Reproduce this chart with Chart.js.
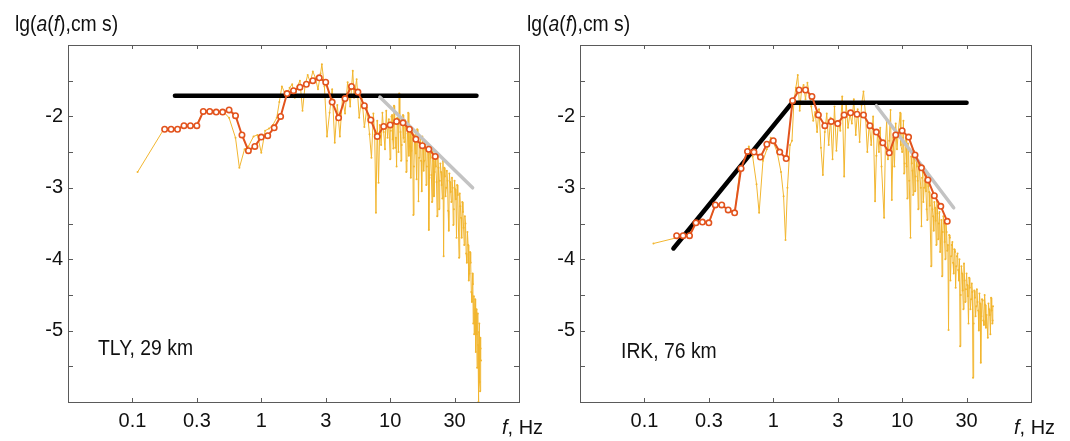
<!DOCTYPE html>
<html>
<head>
<meta charset="utf-8">
<script src="https://cdn.jsdelivr.net/npm/chart.js@4.4.1/dist/chart.umd.min.js"></script>
<style>
  body { margin: 0; background: #fff; }
  #wrap { position: relative; width: 1070px; height: 441px; }
  canvas { position: absolute; top: 0; }
</style>
</head>
<body>
<div id="wrap">
  <canvas id="tly" width="560" height="441" style="left:0"></canvas>
  <canvas id="irk" width="550" height="441" style="left:520px"></canvas>
</div>
<script>
// axes: x is lg(f), y is lg(a(f))
const xTickVals = [-1, -0.5, 0, 0.5, 1, 1.5];
const xTickLabels = ['0.1', '0.3', '1', '3', '10', '30'];
const yTickVals = [-1.5, -2, -2.5, -3, -3.5, -4, -4.5, -5, -5.5];
const yTickLabels = ['', '-2', '', '-3', '', '-4', '', '-5', ''];

// TLY, 29 km
const tlyNoiseLgF = [-0.96, -0.75, -0.70, -0.65, -0.60, -0.55, -0.50, -0.45, -0.40, -0.35, -0.30, -0.25, -0.20, -0.17, -0.13, -0.10, -0.06, -0.03, 0.00, 0.03,
  0.06, 0.09, 0.12, 0.14, 0.16, 0.18, 0.20, 0.22, 0.24, 0.26, 0.28, 0.30, 0.32, 0.34, 0.36, 0.38, 0.40, 0.42, 0.44, 0.46,
  0.47, 0.49, 0.51, 0.53, 0.55, 0.57, 0.59, 0.61, 0.63, 0.65, 0.67, 0.69, 0.71, 0.72, 0.74, 0.76, 0.78, 0.80, 0.82, 0.84,
  0.855, 0.87, 0.88, 0.89, 0.90, 0.91, 0.92, 0.93, 0.94, 0.95, 0.96, 0.97, 0.98, 0.99, 1.00, 1.01, 1.02, 1.03, 1.04, 1.05,
  1.06, 1.07, 1.08, 1.09, 1.10, 1.11, 1.12, 1.13, 1.14, 1.15, 1.16, 1.17, 1.18, 1.19, 1.20, 1.21, 1.22, 1.23, 1.24, 1.25,
  1.26, 1.27, 1.28, 1.29, 1.30, 1.31, 1.32, 1.33, 1.34, 1.35, 1.36, 1.37, 1.38, 1.39, 1.40, 1.41, 1.415, 1.42, 1.43, 1.44,
  1.45, 1.46, 1.47, 1.48, 1.49, 1.50, 1.51, 1.52, 1.535, 1.54, 1.55, 1.56, 1.57, 1.58, 1.59, 1.60, 1.61, 1.62, 1.63, 1.64,
  1.645, 1.65, 1.655, 1.66, 1.665, 1.67, 1.675, 1.68, 1.685, 1.69, 1.695, 1.70, 1.705];
const tlyNoiseLgA = [-2.78, -2.16, -2.20, -2.17, -2.12, -2.15, -2.11, -1.93, -1.91, -1.96, -1.92, -2.02, -2.30, -2.72, -2.46, -2.42, -2.28, -2.26, -2.51, -2.20,
  -2.17, -2.12, -2.02, -1.80, -1.58, -1.66, -1.72, -1.60, -1.55, -1.74, -1.58, -1.50, -1.92, -1.56, -1.42, -1.52, -1.37, -1.46, -1.62, -1.40,
  -1.27, -1.58, -2.28, -1.95, -1.62, -2.37, -1.84, -2.28, -1.74, -1.96, -1.52, -1.86, -1.36, -1.74, -1.48, -2.02, -1.70, -2.15, -1.88, -2.25,
  -2.58, -1.96, -2.25, -3.35, -2.06, -2.93, -2.12, -2.40, -1.95, -2.22, -2.46, -1.92, -2.30, -2.04, -2.60, -2.00, -2.32, -1.85, -2.44, -2.70,
  -2.06, -1.68, -2.22, -2.40, -1.98, -2.36, -2.16, -2.62, -1.95, -2.42, -2.86, -2.22, -3.38, -2.30, -2.52, -2.18, -3.19, -2.40, -2.62, -2.28,
  -2.76, -2.46, -2.96, -2.38, -3.59, -2.52, -2.82, -2.48, -3.12, -2.60, -2.92, -2.56, -3.30, -2.66, -2.96, -2.62, -3.96, -2.72, -3.12, -2.76,
  -3.32, -2.80, -3.06, -2.86, -3.52, -2.90, -3.16, -2.96, -3.98, -3.08, -3.42, -3.20, -3.56, -3.40, -3.92, -3.62, -4.30, -3.90, -4.46, -4.20,
  -4.90, -4.52, -4.76, -4.56, -5.30, -4.70, -5.52, -4.76, -6.00, -5.02, -5.72, -5.10, -5.42];
// extra bins in the dense high-frequency part
const tlyDenseLgF = [1.005, 1.015, 1.025, 1.035, 1.045, 1.055, 1.065, 1.075, 1.085, 1.095, 1.105, 1.115, 1.125, 1.135, 1.145, 1.155, 1.165, 1.175, 1.185, 1.195,
  1.205, 1.215, 1.225, 1.235, 1.245, 1.255, 1.265, 1.275, 1.285, 1.295, 1.305, 1.315, 1.325, 1.335, 1.345, 1.355, 1.365, 1.375, 1.385, 1.395,
  1.405, 1.425, 1.435, 1.445, 1.455, 1.465, 1.475, 1.485, 1.495, 1.505, 1.515, 1.525, 1.545, 1.555, 1.565, 1.575, 1.585, 1.595, 1.605, 1.615,
  1.625, 1.635, 1.642, 1.652, 1.662, 1.672, 1.682, 1.688, 1.692, 1.698, 1.702];
const tlyDenseLgA = [-2.20, -1.98, -2.45, -2.10, -2.30, -2.02, -2.50, -2.08, -2.62, -2.12, -2.30, -2.05, -2.78, -2.24, -2.55, -2.18, -2.48, -2.30, -2.70, -2.26,
  -2.88, -2.36, -2.58, -2.30, -3.05, -2.44, -2.62, -2.40, -2.70, -2.50, -2.86, -2.58, -3.20, -2.62, -2.78, -2.70, -3.40, -2.72, -2.90, -2.78,
  -3.15, -2.84, -3.00, -2.90, -3.60, -2.92, -3.20, -3.00, -3.30, -3.02, -3.70, -3.10, -3.26, -3.70, -3.34, -3.80, -3.50, -4.05, -3.80, -4.20,
  -4.05, -4.60, -4.35, -5.05, -4.70, -5.05, -5.20, -5.40, -4.90, -5.85, -5.25];
const tlySmoothLgF = [-0.75, -0.70, -0.65, -0.60, -0.55, -0.50, -0.45, -0.40, -0.35, -0.30, -0.25, -0.20, -0.15, -0.10, -0.05, 0.00, 0.05, 0.10, 0.15, 0.20,
  0.25, 0.30, 0.35, 0.40, 0.45, 0.50, 0.55, 0.60, 0.65, 0.70, 0.75, 0.80, 0.85, 0.90, 0.95, 1.00, 1.05, 1.10, 1.15, 1.20,
  1.25, 1.30, 1.35];
const tlySmoothLgA = [-2.18, -2.18, -2.18, -2.13, -2.13, -2.13, -1.93, -1.93, -1.94, -1.94, -1.91, -1.99, -2.26, -2.48, -2.42, -2.29, -2.27, -2.16, -2.00, -1.68,
  -1.64, -1.59, -1.55, -1.50, -1.46, -1.52, -1.80, -2.02, -1.75, -1.58, -1.66, -1.85, -2.05, -2.28, -2.14, -2.12, -2.07, -2.09, -2.18, -2.32,
  -2.41, -2.46, -2.56];
const tlyFlatLgF = [-0.67, 1.67];
const tlyFlatLgA = [-1.71, -1.71];
const tlyDecayLgF = [0.92, 1.64];
const tlyDecayLgA = [-1.73, -3.00];

// IRK, 76 km
const irkNoiseLgF = [-0.93, -0.75, -0.70, -0.65, -0.60, -0.55, -0.50, -0.45, -0.40, -0.35, -0.30, -0.26, -0.22, -0.19, -0.16, -0.13, -0.11, -0.08, -0.05, -0.02,
  0.00, 0.03, 0.06, 0.08, 0.095, 0.11, 0.13, 0.145, 0.16, 0.175, 0.19, 0.205, 0.22, 0.235, 0.25, 0.265, 0.28, 0.295, 0.31, 0.325,
  0.34, 0.355, 0.37, 0.385, 0.40, 0.415, 0.43, 0.445, 0.46, 0.475, 0.49, 0.505, 0.52, 0.535, 0.55, 0.565, 0.58, 0.595, 0.61, 0.625,
  0.64, 0.655, 0.67, 0.685, 0.70, 0.715, 0.73, 0.745, 0.76, 0.775, 0.79, 0.80, 0.81, 0.82, 0.83, 0.84, 0.86, 0.87, 0.88, 0.89,
  0.90, 0.91, 0.92, 0.93, 0.94, 0.95, 0.96, 0.97, 0.985, 0.99, 1.00, 1.01, 1.02, 1.03, 1.04, 1.05, 1.065, 1.07, 1.08, 1.09,
  1.10, 1.11, 1.12, 1.13, 1.15, 1.16, 1.17, 1.18, 1.19, 1.20, 1.21, 1.225, 1.23, 1.24, 1.25, 1.26, 1.27, 1.28, 1.29, 1.31,
  1.32, 1.33, 1.34, 1.35, 1.36, 1.37, 1.38, 1.39, 1.40, 1.41, 1.42, 1.43, 1.44, 1.45, 1.46, 1.47, 1.48, 1.49, 1.50, 1.51,
  1.52, 1.53, 1.54, 1.55, 1.56, 1.57, 1.58, 1.59, 1.60, 1.61, 1.62, 1.63, 1.64, 1.65, 1.665, 1.67, 1.68, 1.69, 1.70, 1.705];
const irkNoiseLgA = [-3.78, -3.70, -3.68, -3.62, -3.50, -3.47, -3.49, -3.25, -3.24, -3.30, -3.36, -2.76, -2.60, -2.42, -2.56, -2.95, -3.35, -2.62, -2.46, -2.30,
  -2.36, -2.50, -2.78, -3.12, -3.73, -3.00, -2.40, -2.34, -1.80, -1.60, -1.42, -1.92, -1.62, -1.56, -1.76, -1.53, -1.70, -1.86, -2.06, -1.94,
  -2.22, -1.90, -2.44, -2.82, -2.22, -1.96, -2.40, -2.02, -2.60, -1.86, -2.48, -2.06, -2.20, -1.72, -2.84, -1.80, -2.16, -1.96, -2.10, -1.76,
  -2.26, -1.90, -2.36, -1.84, -1.65, -1.96, -2.50, -2.10, -2.40, -2.00, -3.19, -2.55, -2.20, -2.50, -2.16, -2.70, -3.42, -2.40, -2.06, -2.60,
  -2.34, -1.91, -3.17, -2.30, -2.70, -2.10, -2.46, -2.22, -1.95, -2.40, -2.50, -2.06, -2.66, -2.30, -3.15, -2.46, -3.70, -2.56, -2.76, -2.48,
  -3.05, -2.62, -2.90, -2.66, -3.54, -2.78, -3.00, -2.82, -3.30, -2.92, -3.06, -4.10, -3.12, -3.40, -3.20, -3.46, -3.18, -3.72, -3.34, -4.24,
  -3.40, -3.76, -3.50, -3.88, -4.99, -3.70, -3.96, -3.76, -4.20, -3.90, -4.10, -3.92, -4.30, -5.22, -4.10, -4.44, -4.06, -4.60, -4.20, -4.52,
  -4.26, -4.70, -4.34, -5.66, -4.44, -4.80, -4.42, -4.72, -4.48, -5.45, -4.56, -4.86, -4.50, -4.96, -5.10, -4.62, -4.78, -4.54, -4.90, -4.66];
const irkDenseLgF = [1.005, 1.015, 1.025, 1.035, 1.045, 1.055, 1.075, 1.085, 1.095, 1.105, 1.115, 1.125, 1.135, 1.145, 1.155, 1.165, 1.175, 1.185, 1.195, 1.205,
  1.215, 1.235, 1.245, 1.255, 1.265, 1.275, 1.285, 1.295, 1.305, 1.315, 1.325, 1.335, 1.345, 1.355, 1.365, 1.375, 1.385, 1.395, 1.405, 1.415,
  1.425, 1.435, 1.445, 1.455, 1.465, 1.475, 1.485, 1.495, 1.505, 1.515, 1.525, 1.535, 1.545, 1.555, 1.565, 1.575, 1.585, 1.595, 1.605, 1.615,
  1.625, 1.635, 1.645, 1.655, 1.675, 1.685, 1.695, 1.702];
const irkDenseLgA = [-2.30, -2.80, -2.40, -2.70, -2.38, -2.90, -2.66, -3.10, -2.60, -2.84, -2.70, -3.30, -2.76, -3.00, -2.86, -3.20, -2.90, -3.05, -3.45, -2.98,
  -3.25, -3.30, -3.60, -3.28, -3.80, -3.36, -3.50, -3.90, -3.45, -3.62, -3.50, -4.00, -3.62, -3.80, -3.66, -4.30, -3.80, -4.05, -3.86, -4.40,
  -3.96, -4.15, -4.00, -4.50, -4.20, -4.70, -4.30, -4.42, -4.36, -4.90, -4.40, -4.56, -4.46, -4.90, -4.54, -4.66, -4.60, -5.00, -4.62, -4.80,
  -4.58, -4.92, -4.64, -4.78, -4.70, -5.05, -4.72, -4.86];
const irkSmoothLgF = tlySmoothLgF;
const irkSmoothLgA = [-3.67, -3.67, -3.67, -3.49, -3.48, -3.49, -3.24, -3.24, -3.31, -3.35, -2.73, -2.49, -2.50, -2.57, -2.39, -2.34, -2.50, -2.59, -1.78, -1.63,
  -1.63, -1.72, -1.98, -2.13, -2.07, -2.10, -1.98, -1.95, -1.97, -1.98, -2.13, -2.22, -2.37, -2.51, -2.26, -2.20, -2.29, -2.54, -2.72, -2.89,
  -3.11, -3.26, -3.47];
const irkFlatLgF = [-0.775, 0.145, 1.50];
const irkFlatLgA = [-3.85, -1.81, -1.81];
const irkDecayLgF = [0.80, 1.40];
const irkDecayLgA = [-1.85, -3.28];

const FONT = "'Liberation Sans', Arial, sans-serif";

function pts(xs, ys) {
  return xs.map((x, i) => ({ x: x, y: ys[i] }));
}

function drawText(ctx, parts, x, y, size, sx) {
  ctx.save();
  ctx.translate(x, y);
  ctx.scale(sx, 1);
  ctx.fillStyle = '#111';
  ctx.textBaseline = 'alphabetic';
  ctx.textAlign = 'left';
  let cx = 0;
  parts.forEach(function (p) {
    ctx.font = (p[1] ? 'italic ' : '') + size + 'px ' + FONT;
    ctx.fillText(p[0], cx, 0);
    cx += ctx.measureText(p[0]).width;
  });
  ctx.restore();
}

// frame with inward ticks, axis titles, station label
const framePlugin = {
  id: 'frame',
  afterDraw(chart, args, opts) {
    const ctx = chart.ctx;
    const a = chart.chartArea;
    const xs = chart.scales.x, ys = chart.scales.y;
    ctx.save();
    ctx.strokeStyle = '#5a5a5a';
    ctx.lineWidth = 1;
    ctx.strokeRect(Math.round(a.left) + 0.5, Math.round(a.top) + 0.5, Math.round(a.right - a.left), Math.round(a.bottom - a.top));
    ctx.beginPath();
    xTickVals.forEach(function (v) {
      const px = Math.round(xs.getPixelForValue(v)) + 0.5;
      ctx.moveTo(px, a.bottom); ctx.lineTo(px, a.bottom - 4);
      ctx.moveTo(px, a.top); ctx.lineTo(px, a.top + 4);
    });
    yTickVals.forEach(function (v) {
      const py = Math.round(ys.getPixelForValue(v)) + 0.5;
      ctx.moveTo(a.left, py); ctx.lineTo(a.left + 5, py);
      ctx.moveTo(a.right, py); ctx.lineTo(a.right - 5, py);
    });
    ctx.stroke();
    ctx.restore();

    drawText(ctx, [['lg(', false], ['a', true], ['(', false], ['f', true], ['),cm s)', false]], a.left - 53, 31, 22, 0.88);
    drawText(ctx, [['f', true], [', Hz', false]], a.right - 17, 434, 21, 0.95);
    drawText(ctx, [[opts.label, false]], a.left + opts.labelDx, opts.labelY, 22, 0.88);
  }
};

function makeChart(id, d) {
  const noise = pts(d.noiseF, d.noiseA).concat(pts(d.denseF, d.denseA)).sort((p, q) => p.x - q.x);
  return new Chart(document.getElementById(id), {
    type: 'scatter',
    data: {
      datasets: [
        {
          data: pts(d.smoothF, d.smoothA), showLine: true,
          borderColor: '#e2531d', borderWidth: 2,
          pointRadius: 2.7, pointBorderWidth: 1.6,
          pointBackgroundColor: '#ffffff', pointBorderColor: '#e2531d'
        },
        {
          data: pts(d.decayF, d.decayA), showLine: true,
          borderColor: '#c3c3c3', borderWidth: 3.5, borderCapStyle: 'round', pointRadius: 0
        },
        {
          data: pts(d.flatF, d.flatA), showLine: true,
          borderColor: '#000000', borderWidth: 4.5, borderCapStyle: 'round', borderJoinStyle: 'round', pointRadius: 0
        },
        {
          data: noise, showLine: true,
          borderColor: '#f2b630', borderWidth: 1,
          pointRadius: 1, pointBorderWidth: 0, pointBackgroundColor: '#f2b630'
        }
      ]
    },
    options: {
      responsive: false,
      animation: false,
      events: [],
      layout: { padding: { left: 0, right: d.padRight, top: 45, bottom: 0 } },
      plugins: {
        legend: { display: false },
        tooltip: { enabled: false },
        frame: { label: d.label, labelDx: d.labelDx, labelY: d.labelY }
      },
      scales: {
        x: {
          type: 'linear', min: -1.5, max: 2,
          grid: { display: false, drawTicks: false },
          border: { display: false },
          afterBuildTicks: function (s) { s.ticks = xTickVals.map(v => ({ value: v })); },
          afterFit: function (s) { s.height = 39; },
          ticks: {
            autoSkip: false, maxRotation: 0, padding: 7, color: '#111',
            font: { family: FONT, size: 20 },
            callback: v => xTickLabels[xTickVals.indexOf(v)]
          }
        },
        y: {
          type: 'linear', min: -6, max: -1,
          grid: { display: false, drawTicks: false },
          border: { display: false },
          afterBuildTicks: function (s) { s.ticks = yTickVals.map(v => ({ value: v })); },
          afterFit: function (s) { s.width = d.yWidth; },
          ticks: {
            autoSkip: false, padding: 5, color: '#111',
            font: { family: FONT, size: 20 },
            callback: v => yTickLabels[yTickVals.indexOf(v)]
          }
        }
      }
    },
    plugins: [framePlugin]
  });
}

makeChart('tly', {
  noiseF: tlyNoiseLgF, noiseA: tlyNoiseLgA,
  denseF: tlyDenseLgF, denseA: tlyDenseLgA,
  smoothF: tlySmoothLgF, smoothA: tlySmoothLgA,
  flatF: tlyFlatLgF, flatA: tlyFlatLgA,
  decayF: tlyDecayLgF, decayA: tlyDecayLgA,
  label: 'TLY, 29 km', labelDx: 30, labelY: 355,
  yWidth: 68, padRight: 41
});

makeChart('irk', {
  noiseF: irkNoiseLgF, noiseA: irkNoiseLgA,
  denseF: irkDenseLgF, denseA: irkDenseLgA,
  smoothF: irkSmoothLgF, smoothA: irkSmoothLgA,
  flatF: irkFlatLgF, flatA: irkFlatLgA,
  decayF: irkDecayLgF, decayA: irkDecayLgA,
  label: 'IRK, 76 km', labelDx: 41, labelY: 358,
  yWidth: 60, padRight: 39
});
</script>
</body>
</html>
